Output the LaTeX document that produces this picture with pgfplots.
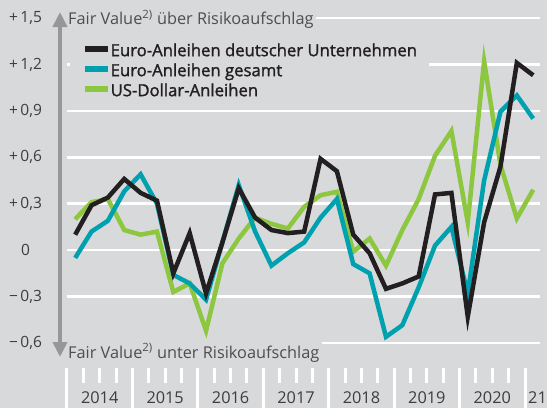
\documentclass[border=0pt]{standalone}
\usepackage{fontspec}
\setmainfont{Open Sans}
\newfontface\legendfont{Open Sans}[FakeBold=1.5]
\usepackage{pgfplots}
\pgfplotsset{compat=1.18}
\usetikzlibrary{arrows.meta}
\definecolor{bg}{RGB}{216,217,219}
\definecolor{cblack}{RGB}{35,31,32}
\definecolor{ccyan}{RGB}{0,161,175}
\definecolor{cgreen}{RGB}{141,198,63}
\definecolor{tickgray}{RGB}{62,61,63}
\definecolor{labelgray}{RGB}{78,77,79}
\definecolor{arrowgray}{RGB}{150,151,153}
\pgfplotstableread{
x blk cyan grn
2014.125 0.10 -0.05 0.20
2014.375 0.29 0.12 0.31
2014.625 0.34 0.19 0.33
2014.875 0.46 0.38 0.13
2015.125 0.37 0.49 0.10
2015.375 0.32 0.30 0.12
2015.625 -0.15 -0.16 -0.27
2015.875 0.11 -0.215 -0.215
2016.125 -0.28 -0.32 -0.52
2016.375 0.05 0.05 -0.085
2016.625 0.40 0.42 0.075
2016.875 0.21 0.12 0.21
2017.125 0.13 -0.10 0.17
2017.375 0.11 -0.02 0.14
2017.625 0.12 0.05 0.28
2017.875 0.59 0.21 0.355
2018.125 0.51 0.33 0.377
2018.375 0.10 -0.09 -0.01
2018.625 -0.02 -0.15 0.075
2018.875 -0.25 -0.56 -0.10
2019.125 -0.215 -0.485 0.13
2019.375 -0.17 -0.24 0.33
2019.625 0.36 0.03 0.61
2019.875 0.37 0.15 0.77
2020.125 -0.43 -0.28 0.18
2020.375 0.18 0.45 1.22
2020.625 0.54 0.895 0.55
2020.875 1.21 1.00 0.205
2021.125 1.13 0.85 0.39
}\datatable
\begin{document}
\begin{tikzpicture}
\fill[bg] (-67pt,-65pt) rectangle (480pt,343pt);
\begin{axis}[
  scale only axis, width=473pt, height=325pt,
  at={(0pt,0pt)}, anchor=south west,
  xmin=2014, xmax=2021.229, ymin=-0.6, ymax=1.5,
  axis line style={draw=none},
  xtick=\empty,
  ytick={-0.6,-0.3,0,0.3,0.6,0.9,1.2,1.5},
  yticklabels={{−\,0,6},{−\,0,3},{0},{+\,0,3},{+\,0,6},{+\,0,9},{+\,1,2},{+\,1,5}},
  yticklabel style={anchor=center, xshift=-41.5pt, font=\fontsize{15.5}{18}\selectfont, text=tickgray},
  major tick length=0pt,
  ymajorgrids, grid style={white, line width=2.6pt},
  clip=false,
  legend cell align=left,
  legend style={at={(axis cs:2014.046,1.358)}, anchor=north west, fill=bg, draw=none,
    inner xsep=12pt, inner ysep=2pt, row sep=0pt,
    font=\legendfont\fontsize{16.7}{20}\selectfont, text=cblack,
    nodes={inner sep=0pt, text height=14pt, text depth=6pt},
    /tikz/every even column/.append style={column sep=7pt}},
  legend image code/.code={\draw[#1, line width=5.5pt] (0pt,0.3em) -- (23pt,0.3em);},
]
\addlegendimage{cblack, line width=4.5pt}
\addlegendentry{Euro-Anleihen deutscher Unternehmen}
\addlegendimage{ccyan, line width=4.5pt}
\addlegendentry{Euro-Anleihen gesamt}
\addlegendimage{cgreen, line width=4.5pt}
\addlegendentry{US-Dollar-Anleihen}
\addplot[cgreen, line width=4.5pt, forget plot] table[x=x, y=grn] {\datatable};
\addplot[ccyan, line width=4.5pt, forget plot] table[x=x, y=cyan] {\datatable};
\addplot[cblack, line width=4.5pt, forget plot] table[x=x, y=blk] {\datatable};
\node[anchor=base west, fill=bg, inner xsep=3pt, inner ysep=1pt, text=labelgray,
  font=\fontsize{16.3}{18}\selectfont] at ([xshift=-2pt,yshift=-6.3pt]axis cs:2014,1.5)
  {Fair Value\textsuperscript{2)} über Risikoaufschlag};
\node[anchor=base west, fill=bg, inner xsep=3pt, inner ysep=0pt, text height=17pt, text=labelgray,
  font=\fontsize{16.3}{18}\selectfont] at ([xshift=-2pt,yshift=-15pt]axis cs:2014,-0.6)
  {Fair Value\textsuperscript{2)} unter Risikoaufschlag};
\draw[arrowgray, line width=4.5pt, {Triangle[width=14pt,length=15pt]}-{Triangle[width=14pt,length=15pt]}]
  ([xshift=-7pt,yshift=6pt]axis cs:2014,1.5) -- ([xshift=-7pt,yshift=-14pt]axis cs:2014,-0.6);
\pgfplotsinvokeforeach{2014,2015,2016,2017,2018,2019,2020,2021}{
  \draw[white, line width=3pt] ([yshift=-25pt]axis cs:#1,-0.6) -- ([yshift=-70pt]axis cs:#1,-0.6);
}
\pgfplotsinvokeforeach{2014,2015,2016,2017,2018,2019,2020}{
  \draw[white, line width=3pt] ([yshift=-25pt]axis cs:#1.25,-0.6) -- ([yshift=-40pt]axis cs:#1.25,-0.6);
  \draw[white, line width=3pt] ([yshift=-25pt]axis cs:#1.5,-0.6) -- ([yshift=-40pt]axis cs:#1.5,-0.6);
  \draw[white, line width=3pt] ([yshift=-25pt]axis cs:#1.75,-0.6) -- ([yshift=-40pt]axis cs:#1.75,-0.6);
  \node[text=tickgray, font=\fontsize{16.3}{18}\selectfont] at ([yshift=-55pt]axis cs:#1.5,-0.6) {#1};
}
\node[anchor=west, text=tickgray, font=\fontsize{16.3}{18}\selectfont, inner xsep=0pt] at ([xshift=3pt,yshift=-55pt]axis cs:2021,-0.6) {21};
\end{axis}
\pgfresetboundingbox
\path (-67pt,-65pt) rectangle (480pt,343pt);
\end{tikzpicture}
\end{document}
